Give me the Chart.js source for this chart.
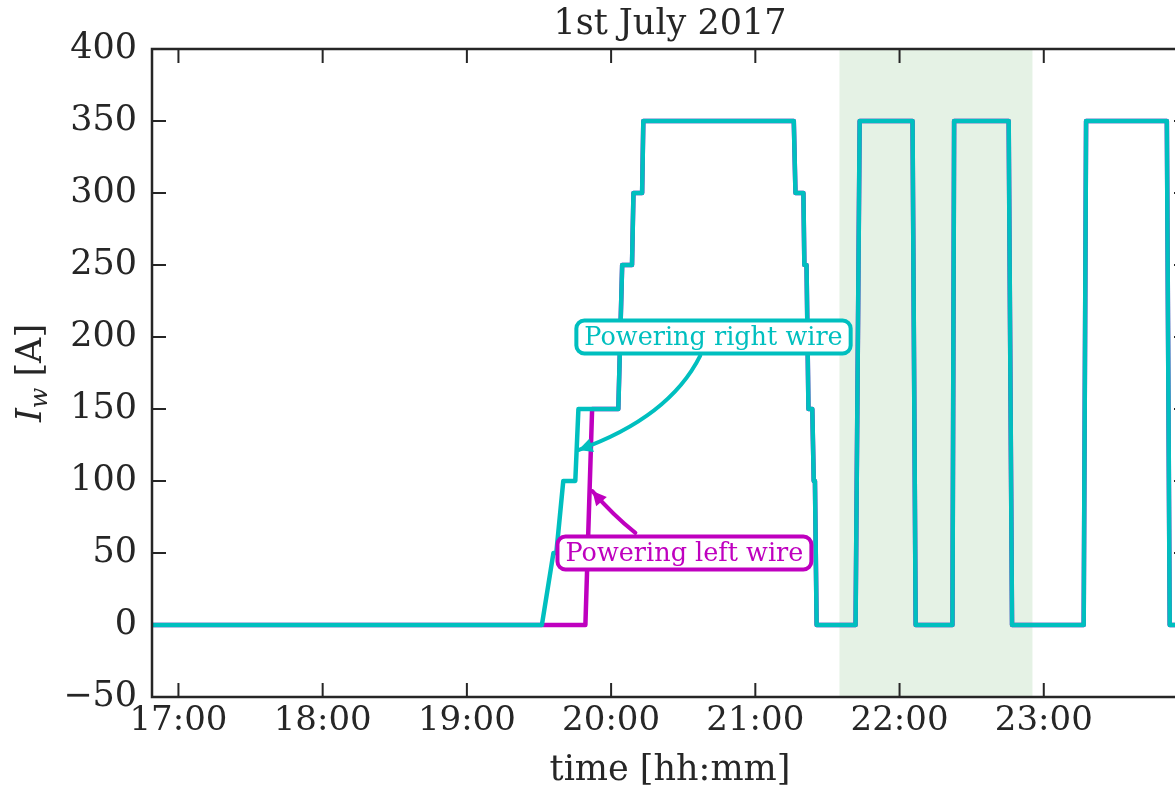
<!DOCTYPE html>
<html>
<head>
<meta charset="utf-8">
<script src="https://cdn.jsdelivr.net/npm/chart.js@4.4.1/dist/chart.umd.min.js"></script>
<style>
html, body { margin: 0; padding: 0; overflow: hidden; background: #ffffff; }
#chart { display: block; }
</style>
</head>
<body>
<canvas id="chart" width="1200" height="791"></canvas>
<script>
var hourTicks = ["17:00", "18:00", "19:00", "20:00", "21:00", "22:00", "23:00"];
var yTicks = [-50, 0, 50, 100, 150, 200, 250, 300, 350, 400];
var timeRange = ["16:49:00", "24:00:00"];
var shadeRange = ["21:35:00", "22:55:18"];

// right wire current (A)
var rightTimes = [
    "16:49:00", "19:31:12", "19:36:00", "19:37:12", "19:40:06", "19:45:06", "19:46:24",
    "20:03:00", "20:04:36", "20:08:42", "20:09:18", "20:12:54", "20:13:24",
    "21:16:00", "21:16:42", "21:20:00", "21:20:24", "21:21:18", "21:22:06", "21:23:42",
    "21:24:18", "21:24:48", "21:25:30", "21:41:42", "21:43:24", "22:05:24", "22:06:42",
    "22:22:00", "22:22:42", "22:45:24", "22:46:48", "23:16:36", "23:17:36", "23:51:12",
    "23:52:24", "24:00:00"
];
var rightValues = [
    0, 0, 50, 50, 100, 100, 150,
    150, 250, 250, 300, 300, 350,
    350, 300, 300, 250, 250, 150, 150,
    100, 100, 0, 0, 350, 350, 0,
    0, 350, 350, 0, 0, 350, 350,
    0, 0
];

// left wire current (A)
var leftTimes = [
    "16:49:00", "19:49:18", "19:52:06",
    "20:03:00", "20:04:36", "20:08:42", "20:09:18", "20:12:54", "20:13:24",
    "21:16:00", "21:16:42", "21:20:00", "21:20:24", "21:21:18", "21:22:06", "21:23:42",
    "21:24:18", "21:24:48", "21:25:30", "21:41:42", "21:43:24", "22:05:24", "22:06:42",
    "22:22:00", "22:22:42", "22:45:24", "22:46:48", "23:16:36", "23:17:36", "23:51:12",
    "23:52:24", "24:00:00"
];
var leftValues = [
    0, 0, 150,
    150, 250, 250, 300, 300, 350,
    350, 300, 300, 250, 250, 150, 150,
    100, 100, 0, 0, 350, 350, 0,
    0, 350, 350, 0, 0, 350, 350,
    0, 0
];

var RIGHT_COLOR = "#00bfbf";
var LEFT_COLOR = "#bf00bf";
var INK = "#262626";
var FONT = "'DejaVu Serif', serif";

var notes = [
    {text: "Powering right wire", color: RIGHT_COLOR, at: ["20:42:36", 200],
     from: ["20:37:06", 187], via: ["20:24:12", 144], to: ["19:46:24", 121.5]},
    {text: "Powering left wire", color: LEFT_COLOR, at: ["20:30:30", 50],
     from: ["20:10:06", 64], via: ["20:01:00", 76], to: ["19:52:12", 93]}
];

function toMinutes(t)
{
    var p = t.split(":");
    return parseInt(p[0]) * 60 + parseInt(p[1]) + (p[2] ? parseInt(p[2]) / 60 : 0);
}

function pad(n)
{
    return (n < 10 ? "0" : "") + n;
}

function toPoints(times, values)
{
    return times.map(function(t, i)
    {
        return {x: toMinutes(t), y: values[i]};
    });
}

var framePlugin = {
    id: "frame",
    beforeDatasetsDraw: function(chart)
    {
        var ctx = chart.ctx;
        var area = chart.chartArea;
        var xs = chart.scales.x;
        var ys = chart.scales.y;
        var x0 = xs.getPixelForValue(toMinutes(shadeRange[0]));
        var x1 = xs.getPixelForValue(toMinutes(shadeRange[1]));

        ctx.save();
        ctx.fillStyle = "rgba(0, 128, 0, 0.1)";
        ctx.fillRect(x0, area.top, x1 - x0, area.bottom - area.top);

        // inward ticks, under the lines
        ctx.strokeStyle = INK;
        ctx.lineWidth = 2;
        hourTicks.forEach(function(t)
        {
            var x = xs.getPixelForValue(toMinutes(t));
            ctx.beginPath();
            ctx.moveTo(x, area.bottom);
            ctx.lineTo(x, area.bottom - 14);
            ctx.moveTo(x, area.top);
            ctx.lineTo(x, area.top + 14);
            ctx.stroke();
        });
        yTicks.forEach(function(v)
        {
            var y = ys.getPixelForValue(v);
            ctx.beginPath();
            ctx.moveTo(area.left, y);
            ctx.lineTo(area.left + 14, y);
            ctx.moveTo(area.right, y);
            ctx.lineTo(area.right - 14, y);
            ctx.stroke();
        });
        ctx.restore();
    },
    afterDatasetsDraw: function(chart)
    {
        var ctx = chart.ctx;
        var area = chart.chartArea;
        var xs = chart.scales.x;
        var ys = chart.scales.y;

        function px(p)
        {
            return {x: xs.getPixelForValue(toMinutes(p[0])), y: ys.getPixelForValue(p[1])};
        }

        ctx.save();

        notes.forEach(function(note)
        {
            var a = px(note.from), c = px(note.via), b = px(note.to);

            ctx.strokeStyle = note.color;
            ctx.fillStyle = note.color;
            ctx.lineWidth = 4;
            ctx.lineCap = "round";
            ctx.beginPath();
            ctx.moveTo(a.x, a.y);
            ctx.quadraticCurveTo(c.x, c.y, b.x, b.y);
            ctx.stroke();

            var ang = Math.atan2(b.y - c.y, b.x - c.x);
            ctx.beginPath();
            ctx.moveTo(b.x, b.y);
            ctx.lineTo(b.x - 14 * Math.cos(ang) + 7 * Math.sin(ang), b.y - 14 * Math.sin(ang) - 7 * Math.cos(ang));
            ctx.lineTo(b.x - 14 * Math.cos(ang) - 7 * Math.sin(ang), b.y - 14 * Math.sin(ang) + 7 * Math.cos(ang));
            ctx.closePath();
            ctx.fill();

            var p = px(note.at);
            ctx.font = "25.5px " + FONT;
            var w = ctx.measureText(note.text).width + 16;
            var h = 33;

            ctx.beginPath();
            ctx.roundRect(p.x - w / 2, p.y - h / 2, w, h, 8);
            ctx.fillStyle = "#ffffff";
            ctx.fill();
            ctx.lineWidth = 4;
            ctx.stroke();

            ctx.fillStyle = note.color;
            ctx.textAlign = "center";
            ctx.textBaseline = "middle";
            ctx.fillText(note.text, p.x, p.y + 1);
        });

        // spines on top
        ctx.strokeStyle = INK;
        ctx.lineWidth = 2.5;
        ctx.strokeRect(area.left, area.top, area.right - area.left, area.bottom - area.top);

        ctx.restore();
    },
    afterDraw: function(chart)
    {
        var ctx = chart.ctx;
        var cy = (chart.chartArea.top + chart.chartArea.bottom) / 2;

        ctx.save();
        ctx.translate(41, cy);
        ctx.rotate(-Math.PI / 2);
        ctx.fillStyle = INK;
        ctx.textBaseline = "alphabetic";
        ctx.textAlign = "left";

        var big = "italic 35px " + FONT;
        var small = "italic 24px " + FONT;
        var norm = "35px " + FONT;

        ctx.font = big;
        var wI = ctx.measureText("I").width;
        ctx.font = small;
        var wW = ctx.measureText("w").width;
        ctx.font = norm;
        var wA = ctx.measureText(" [A]").width;
        var x = -(wI + wW + wA) / 2;

        ctx.font = big;
        ctx.fillText("I", x, 0);
        ctx.font = small;
        ctx.fillText("w", x + wI, 6);
        ctx.font = norm;
        ctx.fillText(" [A]", x + wI + wW, 0);
        ctx.restore();
    }
};

var ctx = document.getElementById("chart").getContext("2d");

var chart = new Chart(ctx, {
    type: "line",
    data: {
        datasets: [
            {
                label: "right wire",
                data: toPoints(rightTimes, rightValues),
                borderColor: RIGHT_COLOR,
                borderWidth: 4.5,
                borderJoinStyle: "round",
                pointRadius: 0,
                tension: 0
            },
            {
                label: "left wire",
                data: toPoints(leftTimes, leftValues),
                borderColor: LEFT_COLOR,
                borderWidth: 4.5,
                borderJoinStyle: "round",
                pointRadius: 0,
                tension: 0
            }
        ]
    },
    options: {
        responsive: false,
        animation: false,
        events: [],
        layout: {
            padding: {left: 0, right: 12, top: 0, bottom: 0}
        },
        plugins: {
            legend: {display: false},
            tooltip: {enabled: false},
            title: {
                display: true,
                text: "1st July 2017",
                fullSize: false,
                color: INK,
                font: {family: FONT, size: 35, weight: "normal"},
                padding: {top: 4, bottom: 3}
            }
        },
        scales: {
            x: {
                type: "linear",
                min: toMinutes(timeRange[0]),
                max: toMinutes(timeRange[1]),
                afterBuildTicks: function(scale)
                {
                    scale.ticks = hourTicks.map(function(t)
                    {
                        return {value: toMinutes(t)};
                    });
                },
                afterFit: function(scale)
                {
                    scale.height = 94;
                },
                ticks: {
                    autoSkip: false,
                    maxRotation: 0,
                    padding: 4,
                    color: INK,
                    font: {family: FONT, size: 34},
                    callback: function(v)
                    {
                        return pad(Math.floor(v / 60)) + ":" + pad(Math.round(v % 60));
                    }
                },
                grid: {display: false, drawTicks: false},
                border: {display: false},
                title: {
                    display: true,
                    text: "time [hh:mm]",
                    color: INK,
                    font: {family: FONT, size: 35},
                    padding: {top: 0, bottom: -1}
                }
            },
            y: {
                min: yTicks[0],
                max: yTicks[yTicks.length - 1],
                afterBuildTicks: function(scale)
                {
                    scale.ticks = yTicks.map(function(v)
                    {
                        return {value: v};
                    });
                },
                afterFit: function(scale)
                {
                    scale.width = 152;
                },
                ticks: {
                    padding: 15,
                    color: INK,
                    font: {family: FONT, size: 35},
                    callback: function(v)
                    {
                        return String(v).replace("-", "\u2212");
                    }
                },
                grid: {display: false, drawTicks: false},
                border: {display: false}
            }
        }
    },
    plugins: [framePlugin]
});
</script>
</body>
</html>
